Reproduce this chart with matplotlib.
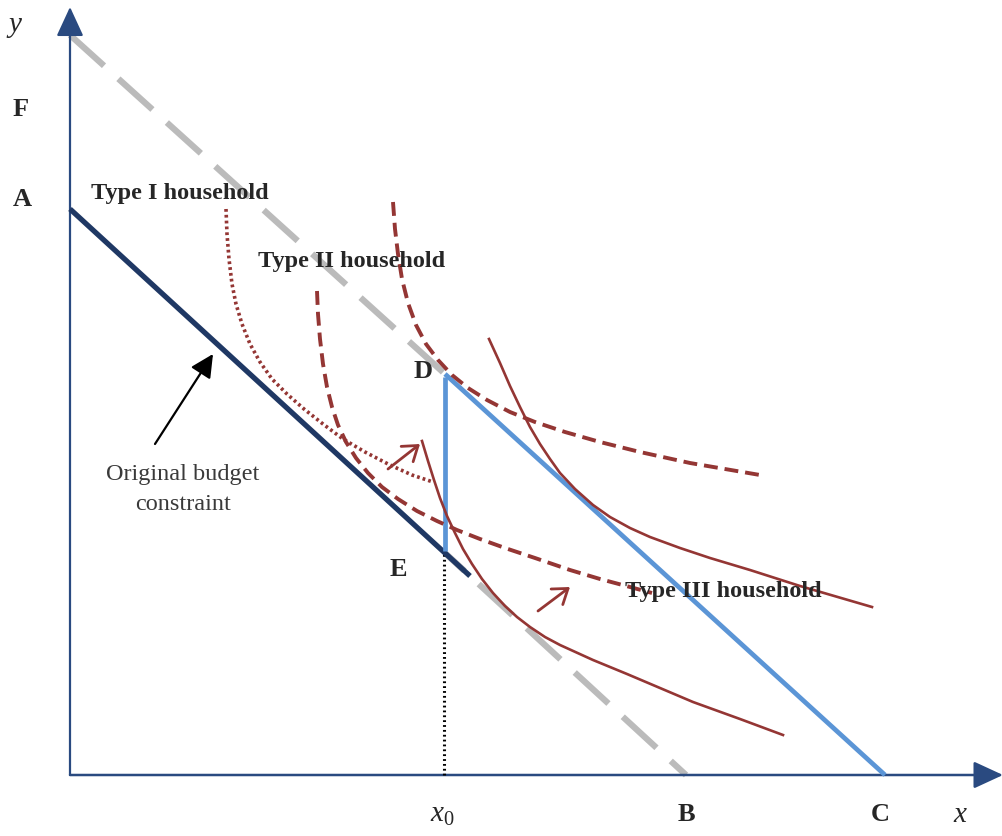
import matplotlib
matplotlib.use("Agg")
import matplotlib.pyplot as plt

plt.rcParams['lines.scale_dashes'] = False
plt.rcParams['mathtext.fontset'] = 'custom'
plt.rcParams['mathtext.it'] = 'Liberation Serif:italic'
plt.rcParams['mathtext.rm'] = 'Liberation Serif'

# ---- data (diagram units: origin at the axes corner) ----
type1_x = [156, 157, 159, 162, 166, 172, 180, 190, 202, 217, 234, 253, 273, 295, 320, 342, 363]
type1_y = [566, 541, 516, 491, 471, 451, 431, 413, 396, 381, 366, 351, 336, 323, 310, 300, 293]

type2_low_x = [247, 248, 250, 253, 257, 262, 268, 276, 286, 298, 312, 328, 347, 367, 387, 410, 435, 465, 500, 530, 560, 582]
type2_low_y = [484, 461, 436, 411, 388, 368, 350, 333, 317, 302, 288, 276, 264, 254, 245, 236, 227, 217, 205, 196, 188, 182]

type2_up_x = [323, 325, 328, 332, 338, 346, 356, 368, 382, 398, 417, 440, 465, 495, 530, 570, 620, 690]
type2_up_y = [573, 546, 521, 496, 472, 450, 431, 415, 400, 387, 375, 363, 353, 343, 333, 323, 312, 300]

type3_low_x = [352, 358, 364, 370, 377, 385, 393, 402, 412, 423, 435, 447, 460, 475, 490, 523, 557, 590, 623, 670, 713]
type3_low_y = [334, 314, 295, 277, 259, 242, 226, 211, 196, 182, 169, 158, 148, 138, 130, 115, 101, 87, 73, 56, 40]

type3_up_x = [419, 430, 440, 450, 460, 470, 480, 490, 505, 523, 540, 560, 580, 610, 640, 680, 730, 802]
type3_up_y = [436, 412, 389, 368, 348, 331, 316, 302, 286, 270, 258, 247, 238, 227, 217, 205, 189, 168]

A_y = 566          # original budget intercept on y axis
E_pt = (375, 222)  # original budget at x0
orig_end = (400, 199)
F_y = 740
D_pt = (375, 401)
B_x = 616
C_x = 815
x0 = 374

navy = '#1F3864'
axis_col = '#2A4A80'
blue = '#5B95D6'
gray = '#BBBBBB'
brown = '#943634'
txt = '#262626'

fig = plt.figure(figsize=(10.03, 8.37), dpi=100)
ax = fig.add_axes([0, 0, 1, 1])
ax.set_xlim(-70, 933)
ax.set_ylim(-61, 776)
ax.axis('off')

serif = ['Liberation Serif', 'DejaVu Serif']

# axes with arrows
ax.annotate('', xy=(0, 768), xytext=(0, 0),
            arrowprops=dict(arrowstyle='-|>,head_length=1.3,head_width=0.6', mutation_scale=14,
                            lw=1.6, color=axis_col, shrinkA=0, shrinkB=0))
ax.annotate('', xy=(933, 0), xytext=(0, 0),
            arrowprops=dict(arrowstyle='-|>,head_length=1.3,head_width=0.6', mutation_scale=14,
                            lw=1.8, color=axis_col, shrinkA=0, shrinkB=0))

# gray dashed lines
ax.plot([0, D_pt[0]], [F_y, D_pt[1]], color=gray, lw=4.5, ls=(0, (33, 14)), solid_capstyle='butt', zorder=2)
ax.plot([E_pt[0], B_x], [E_pt[1], 0], color=gray, lw=4.5, ls=(14, (33, 14)), solid_capstyle='butt', zorder=2)

# dotted vertical at x0
ax.plot([x0, x0], [0, E_pt[1]], color='black', lw=2.2, ls=(0, (1.3, 2.2)), zorder=3)

# original budget constraint
ax.plot([0, orig_end[0]], [A_y, orig_end[1]], color=navy, lw=3.8, solid_capstyle='butt', zorder=4)

# new budget (blue)
ax.plot([D_pt[0], D_pt[0]], [E_pt[1] + 2, D_pt[1] - 3], color=blue, lw=3.4, solid_capstyle='butt', zorder=5)
ax.plot([D_pt[0], C_x], [D_pt[1], 0], color=blue, lw=3.4, solid_capstyle='butt', zorder=5)

# indifference curves
ax.plot(type1_x, type1_y, color=brown, lw=2.6, ls=(0, (2.0, 2.2)), zorder=6)
ax.plot(type2_low_x, type2_low_y, color=brown, lw=2.8, ls=(0, (10, 5)), zorder=6)
ax.plot(type2_up_x, type2_up_y, color=brown, lw=2.8, ls=(0, (10, 5)), zorder=6)
ax.plot(type3_low_x, type3_low_y, color=brown, lw=1.9, zorder=6)
ax.plot(type3_up_x, type3_up_y, color=brown, lw=1.9, zorder=6)

# small brown arrows
for (x1, y1), (x2, y2) in [((318, 306), (350, 331)), ((468, 164), (500, 188))]:
    ax.annotate('', xy=(x2, y2), xytext=(x1, y1),
                arrowprops=dict(arrowstyle='->,head_length=0.5,head_width=0.35', mutation_scale=20,
                                lw=2.0, color=brown, shrinkA=0, shrinkB=0), zorder=7)

# black pointer arrow
ax.annotate('', xy=(143, 421), xytext=(85, 331),
            arrowprops=dict(arrowstyle='-|>,head_length=0.7,head_width=0.35', mutation_scale=20,
                            lw=1.6, color='black', shrinkA=0, shrinkB=0), zorder=7)

# labels
def lab(x, y, s, size=19, weight='bold', style='normal', ha='center', color=txt):
    ax.text(x, y, s, fontsize=size, fontweight=weight, fontstyle=style, family=serif,
            color=color, ha=ha, va='center', zorder=8)

lab(-55, 751, 'y', size=21, weight='normal', style='italic')
lab(-49, 666, 'F')
lab(-48, 576, 'A')
lab(353, 405, 'D')
lab(328, 206, 'E')
lab(372, -39, r'$x_{\mathit{0}}$', size=21, weight='normal')
lab(616, -39, 'B')
lab(810, -39, 'C')
lab(890, -39, 'x', size=21, weight='normal', style='italic')

lab(110, 583, 'Type I household', size=17.5)
lab(282, 515, 'Type II household', size=17.5)
lab(653, 184, 'Type III household', size=17.5)

lab(113, 301, 'Original budget', size=17.5, weight='normal', color='#3a3a3a')
lab(113, 271, 'constraint', size=17.5, weight='normal', color='#3a3a3a')

fig.savefig('out.png', dpi=100)
